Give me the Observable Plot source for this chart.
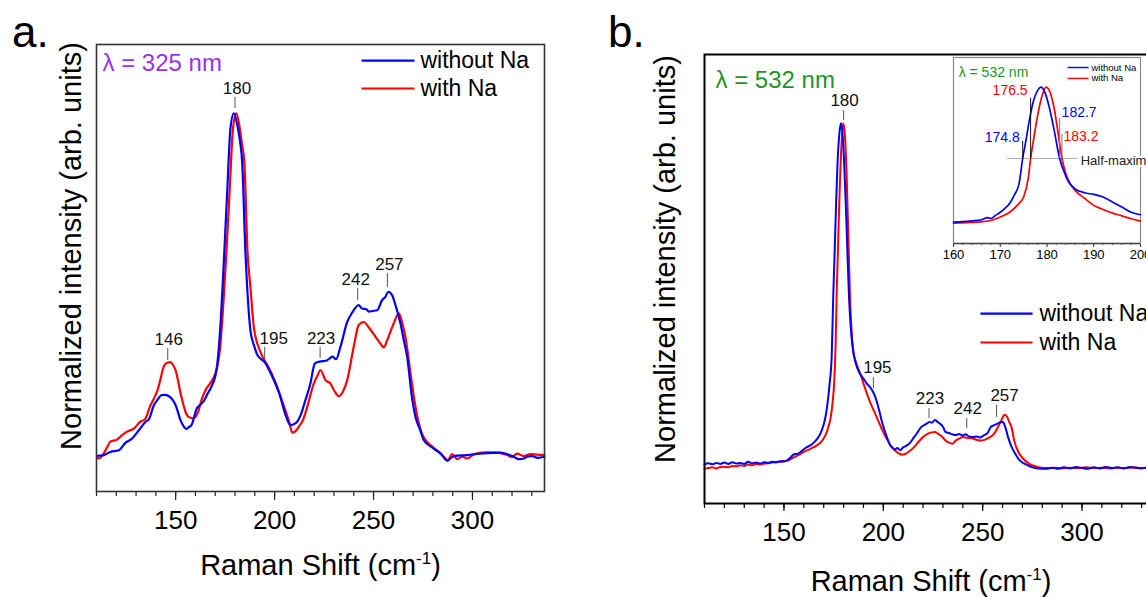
<!DOCTYPE html>
<html>
<head>
<meta charset="utf-8">
<script src="https://cdn.jsdelivr.net/npm/d3@7"></script>
<script src="https://cdn.jsdelivr.net/npm/@observablehq/plot@0.6"></script>
<style>
  body { margin: 0; background: #fff; }
  #wrap { position: relative; width: 1146px; height: 597px; overflow: hidden; background: #fff;
          font-family: "Liberation Sans", Arial, Helvetica, sans-serif; }
  .letter { position: absolute; font-size: 44px; line-height: 1; color: #000; }
</style>
</head>
<body>
<div id="wrap"></div>
<script>
// ---------------- data ----------------
const seriesNames = ["without Na", "with Na"];
const xMajorTicks = [150, 200, 250, 300];
const insetTicks = [160, 170, 180, 190, 200];
const xTitle = "Raman Shift (cm-1)";
const yTitle = "Normalized intensity (arb. units)";
const lambdaA = "λ = 325 nm";
const lambdaB = "λ = 532 nm";

// panel a (λ = 325 nm)
const aWithout = [[110.2,0.004],[113.7,0.006],[117,0.015],[121.3,0.02],[124.7,0.042],[128,0.054],[131.4,0.078],[134.8,0.103],[136.5,0.11],[139,0.151],[141,0.168],[142.7,0.18],[144.5,0.181],[146.4,0.178],[148.3,0.168],[150,0.151],[152.5,0.107],[154,0.09],[155.3,0.082],[156.8,0.088],[158,0.093],[160.7,0.142],[162.5,0.152],[164.4,0.165],[166.2,0.185],[168,0.204],[170.6,0.252],[172.5,0.37],[174.2,0.55],[176,0.765],[177.7,0.957],[179.4,1.0],[181,0.97],[182.5,0.92],[183.6,0.86],[185.3,0.59],[186,0.51],[187.8,0.368],[189.6,0.325],[191.4,0.296],[195,0.276],[198.5,0.238],[202.3,0.186],[205.9,0.117],[208,0.093],[210.4,0.098],[211.4,0.103],[213,0.12],[215.6,0.166],[218.1,0.214],[220.3,0.272],[222.1,0.277],[224.5,0.279],[226.6,0.282],[228,0.288],[229.3,0.292],[231.1,0.285],[233.3,0.321],[236.7,0.393],[239.2,0.42],[242.5,0.442],[244.2,0.432],[246.4,0.43],[247.6,0.423],[249.5,0.425],[251.8,0.427],[254.4,0.457],[256,0.466],[257.4,0.481],[259.4,0.471],[261.1,0.442],[263.6,0.389],[265.3,0.34],[267,0.292],[269.5,0.17],[271.2,0.117],[273.5,0.08],[275.4,0.049],[280.4,0.025],[284,0.01],[287.2,-0.01],[290.6,0.003],[297.3,0.006],[305.7,0.011],[314.1,0.013],[320.8,0.001],[323.5,-0.006],[325.9,-0.004],[328,0.002],[330.2,0.003],[333,-0.002],[336.4,0.001]];
const aWith = [[110.2,0.0],[111.2,-0.004],[113.7,0.011],[115.5,0.03],[117,0.045],[120.4,0.051],[123,0.064],[125.5,0.074],[128.9,0.083],[132.2,0.103],[134.5,0.11],[137.3,0.151],[139,0.17],[140.8,0.194],[142.5,0.23],[143.6,0.257],[145,0.272],[147.2,0.276],[148.7,0.268],[150,0.252],[152.5,0.186],[155.3,0.127],[157,0.115],[159,0.113],[161.6,0.136],[163,0.165],[165,0.194],[167.5,0.215],[169.7,0.238],[171.3,0.27],[172.5,0.32],[174.2,0.455],[175.6,0.59],[177.2,0.765],[179,0.957],[180.7,1.0],[182.3,0.96],[183.5,0.91],[184.7,0.86],[186.3,0.6],[187.8,0.494],[189.6,0.374],[193.2,0.301],[196.9,0.262],[200.4,0.218],[204,0.16],[207.6,0.098],[208.9,0.071],[210.5,0.075],[212.2,0.088],[214.5,0.11],[216.5,0.146],[219.8,0.214],[221.5,0.235],[223.2,0.253],[225.7,0.224],[228.2,0.214],[230.5,0.19],[232.4,0.177],[234.5,0.19],[236.7,0.224],[240,0.321],[242.5,0.384],[245.1,0.393],[247.6,0.377],[251,0.35],[253.5,0.33],[255.2,0.319],[256.9,0.34],[260.2,0.389],[262.8,0.418],[264.5,0.39],[266.1,0.35],[268.7,0.243],[271.2,0.146],[274.4,0.069],[277,0.045],[279.8,0.03],[283,0.015],[286.2,-0.003],[287.5,-0.01],[289.7,0.009],[292.3,-0.006],[294.8,0.001],[297.3,-0.004],[300.7,0.008],[306.6,0.014],[312.5,0.013],[317.5,0.006],[320,0.0],[322.6,0.01],[325.9,0.003],[329.3,0.009],[332.7,0.007],[336.4,0.006]];
const aPeakLabels = ["146", "180", "195", "223", "242", "257"];
const aPeakTop = [0.316, 1.046, 0.319, 0.319, 0.49, 0.534];
const aPeakBottom = [0.281, 1.014, 0.284, 0.287, 0.455, 0.493];

// panel b (λ = 532 nm)
const bWithout = [[110,0.008],[112,0.012],[114,0.009],[116,0.013],[118,0.01],[120,0.014],[122,0.01],[124,0.015],[126,0.011],[128,0.013],[130,0.01],[132,0.016],[134,0.012],[136,0.014],[138,0.011],[140,0.015],[142,0.013],[144,0.016],[146,0.015],[148,0.018],[150,0.017],[152,0.022],[153.5,0.03],[155,0.038],[157,0.04],[159,0.048],[161,0.057],[163,0.063],[165,0.072],[167,0.085],[168.5,0.1],[170,0.125],[171,0.15],[172,0.19],[173,0.245],[174,0.32],[174.8,0.5],[175.5,0.625],[176.3,0.78],[177,0.89],[178,0.977],[178.7,1.0],[179.5,0.966],[180.5,0.856],[181.5,0.7],[182.7,0.5],[183.5,0.416],[184.5,0.35],[186,0.305],[188,0.275],[190,0.258],[191.8,0.243],[193.5,0.232],[195.3,0.214],[196.5,0.195],[197.9,0.166],[199.2,0.135],[200.6,0.108],[202,0.085],[203.1,0.069],[204.5,0.058],[205.8,0.052],[207,0.056],[208.5,0.05],[210,0.058],[211.9,0.064],[213.5,0.072],[215.5,0.088],[217,0.1],[219,0.117],[221,0.124],[223.4,0.132],[224.5,0.13],[226,0.138],[227.5,0.131],[228.6,0.127],[230,0.118],[231.3,0.103],[233,0.1],[234.8,0.096],[236.5,0.094],[238,0.097],[240,0.093],[241.5,0.096],[243,0.09],[245.3,0.088],[247,0.09],[248.5,0.087],[250.6,0.093],[252.5,0.1],[254,0.117],[255.5,0.122],[257.5,0.127],[259,0.131],[260.2,0.132],[261.5,0.115],[262.8,0.088],[264.5,0.06],[266.3,0.04],[268,0.025],[269.8,0.015],[272,0.008],[275.1,0.0],[278,-0.003],[282.1,-0.004],[285,-0.001],[288,-0.004],[291,0.0],[294,-0.003],[297,0.001],[300,-0.002],[303,-0.004],[306,0.0],[309,-0.003],[312,0.001],[315,-0.002],[318,0.0],[321,-0.003],[324,0.001],[327,-0.001],[330,-0.003],[333,0.0],[336,-0.002],[340,0.0]];
const bWith = [[110,-0.004],[112,-0.002],[114,0.0],[116,-0.003],[118,0.001],[120,0.002],[122,0.0],[124,0.004],[126,0.003],[128,0.006],[130,0.004],[132,0.008],[134,0.006],[136,0.01],[138,0.008],[140,0.011],[142,0.012],[144,0.014],[146,0.015],[148,0.016],[150,0.018],[152,0.02],[154,0.026],[156,0.032],[158,0.038],[160,0.045],[162,0.05],[164,0.056],[166,0.062],[168,0.07],[169.5,0.08],[171,0.095],[172.5,0.12],[173.5,0.145],[174.5,0.19],[175.3,0.25],[176,0.36],[176.5,0.5],[177,0.6],[178,0.8],[179,0.944],[179.8,1.0],[180.5,0.977],[181.5,0.856],[182.5,0.647],[183.2,0.5],[184,0.4],[185,0.335],[186,0.31],[187.5,0.285],[189,0.262],[190.5,0.235],[192,0.21],[194,0.18],[196,0.155],[198,0.128],[199.6,0.107],[201.5,0.085],[204,0.06],[206,0.048],[208,0.04],[209.5,0.037],[211,0.039],[213,0.046],[215.5,0.059],[218,0.076],[220,0.088],[222.5,0.098],[224,0.101],[226,0.103],[228,0.096],[229.5,0.09],[231.3,0.078],[233,0.072],[234.8,0.069],[236.5,0.078],[238,0.083],[240,0.088],[242,0.086],[244,0.085],[246,0.082],[248.8,0.078],[251,0.08],[253,0.086],[255.8,0.098],[257.5,0.115],[259.5,0.138],[261,0.153],[262.2,0.148],[263.5,0.13],[264.5,0.117],[266,0.075],[268,0.044],[270,0.028],[273.4,0.01],[276,0.004],[278.7,0.0],[282,-0.002],[286,-0.001],[290,-0.003],[294,-0.001],[298,-0.002],[302,0.0],[306,-0.002],[310,-0.001],[314,-0.003],[318,-0.001],[322,-0.002],[326,0.0],[330,-0.002],[334,-0.001],[338,-0.002],[340,-0.002]];
const bPeakLabels = ["180", "195", "223", "242", "257"];
const bPeakTop = [1.037, 0.261, 0.171, 0.142, 0.18];
const bPeakBottom = [1.008, 0.229, 0.142, 0.113, 0.145];

// inset (λ = 532 nm, 160–200 cm-1)
const insetWithout = [[160,0.137],[162,0.14],[164,0.145],[166,0.152],[167.3,0.165],[168,0.16],[169,0.18],[170,0.2],[171,0.225],[172,0.256],[173,0.31],[174,0.38],[174.8,0.544],[175.5,0.66],[176.3,0.8],[177,0.9],[178,0.98],[178.7,1.0],[179.5,0.97],[180.5,0.87],[181.5,0.73],[182.7,0.544],[183.5,0.47],[184.5,0.4],[186,0.35],[188,0.325],[190,0.314],[192,0.297],[194,0.265],[196,0.233],[198,0.2],[200,0.184]];
const insetWith = [[160,0.13],[163,0.134],[165,0.137],[168,0.147],[170,0.169],[172,0.2],[174,0.256],[175,0.297],[176,0.42],[176.5,0.544],[177,0.64],[178,0.82],[179,0.95],[179.8,1.0],[180.5,0.98],[181.5,0.87],[182.5,0.68],[183.2,0.544],[184,0.45],[185,0.38],[186,0.34],[188,0.29],[190,0.244],[192,0.218],[194,0.194],[196,0.177],[198,0.158],[200,0.143]];
const halfMaximum = 0.544;
const fwhmLabels = ["176.5", "174.8", "182.7", "183.2"];
const fwhmX = [176.5, 174.8, 182.7, 183.2];
const fwhmLineTop = [0.928, 0.653, 0.80, 0.697];
const fwhmLabelY = [0.979, 0.678, 0.838, 0.685];

// ---------------- drawing ----------------
const font = '"Liberation Sans", Arial, Helvetica, sans-serif';
const blue = "#0000ff", red = "#ff0000";
const seriesColors = [blue, red];

function curve(data, stroke, w) {
  return Plot.line(data, {x: d => d[0], y: d => d[1], stroke, strokeWidth: w, curve: "monotone-x"});
}
function peaks(labels, tops, bottoms, dxs, dy) {
  const marks = [];
  labels.forEach((l, i) => {
    const row = [{x: +l, t: tops[i], b: bottoms[i], l}];
    marks.push(Plot.ruleX(row, {x: "x", y1: "b", y2: "t", stroke: "#555", strokeWidth: 1}));
    marks.push(Plot.text(row, {x: "x", y: "t", text: "l", dx: dxs[i], dy, fontSize: 17, fill: "#111", lineAnchor: "middle"}));
  });
  return marks;
}
function legend(x1, x2, xt, ys, fs, sw) {
  const marks = [];
  seriesNames.forEach((name, i) => {
    const row = [{name, y: ys[i]}];
    marks.push(Plot.link(row, {x1, x2, y1: "y", y2: "y", stroke: seriesColors[i], strokeWidth: sw}));
    marks.push(Plot.text(row, {x: xt, y: "y", text: "name", textAnchor: "start", lineAnchor: "middle", fontSize: fs, fill: "#000"}));
  });
  return marks;
}
const baseStyle = {fontFamily: font, color: "#000", background: "transparent", overflow: "visible"};

const A = Plot.plot({
  width: 560, height: 597, marginLeft: 96, marginRight: 16, marginTop: 44, marginBottom: 106,
  x: {domain: [110, 336.4]}, y: {domain: [-0.1, 1.2], axis: null},
  style: baseStyle,
  marks: [
    Plot.axisX({ticks: d3.range(110, 337, 10), tickSize: 5, tickFormat: () => "", label: null, strokeWidth: 1.2, stroke: "#222"}),
    Plot.axisX({ticks: xMajorTicks, tickSize: 9, tickPadding: 10, fontSize: 26, label: null, strokeWidth: 1.2, stroke: "#222", fill: "#000"}),
    curve(aWith, red, 2.2),
    curve(aWithout, blue, 2.2),
    Plot.frame({stroke: "#333", strokeWidth: 1.6}),
    ...peaks(aPeakLabels, aPeakTop, aPeakBottom, [1, 2, 9, 1, -2, 2], -9),
    Plot.text([lambdaA], {frameAnchor: "top-left", dx: 6, dy: 19, textAnchor: "start", lineAnchor: "middle", fontSize: 24, fill: "#9632f0"}),
    ...legend(243.9, 270.7, 273.7, [1.153, 1.072], 23, 2.2),
    Plot.text([xTitle], {frameAnchor: "bottom", dy: 74, fontSize: 29, textAnchor: "middle", lineAnchor: "middle", fill: "#000"}),
    Plot.text([yTitle], {frameAnchor: "left", rotate: -90, dx: -25, dy: -22, fontSize: 29, textAnchor: "middle", lineAnchor: "middle", fill: "#000"})
  ]
});

const B = Plot.plot({
  width: 580, height: 597, marginLeft: 104, marginRight: 19, marginTop: 54, marginBottom: 94,
  x: {domain: [110, 340]}, y: {domain: [-0.105, 1.2], axis: null},
  style: baseStyle,
  marks: [
    Plot.axisX({ticks: d3.range(110, 341, 10), tickSize: 5, tickFormat: () => "", label: null, strokeWidth: 1.2, stroke: "#000"}),
    Plot.axisX({ticks: xMajorTicks, tickSize: 8, tickPadding: 11, fontSize: 26, label: null, strokeWidth: 1.2, stroke: "#000", fill: "#000"}),
    curve(bWith, red, 2),
    curve(bWithout, blue, 2),
    Plot.frame({stroke: "#000", strokeWidth: 2}),
    ...peaks(bPeakLabels, bPeakTop, bPeakBottom, [1, 4, 1, 1, 8], -10),
    Plot.text([lambdaB], {frameAnchor: "top-left", dx: 11, dy: 26, textAnchor: "start", lineAnchor: "middle", fontSize: 24, fill: "#1e961e"}),
    ...legend(248.9, 275.1, 278.6, [0.447, 0.363], 23, 2.2),
    Plot.text([xTitle], {frameAnchor: "bottom", dx: -2, dy: 78, fontSize: 29, textAnchor: "middle", lineAnchor: "middle", fill: "#000"}),
    Plot.text([yTitle], {frameAnchor: "left", rotate: -90, dx: -39, dy: -20, fontSize: 29, textAnchor: "middle", lineAnchor: "middle", fill: "#000"})
  ]
});

const fwhmRows = fwhmLabels.map((l, i) => ({l, x: fwhmX[i], top: fwhmLineTop[i], ty: fwhmLabelY[i]}));
const fwhmTextColor = [red, blue, blue, red];
const fwhmLineColor = ["#111", "#111", "#777", "#777"];
const fwhmAnchor = ["end", "end", "start", "start"];
const fwhmDx = [-3, -3, 2, 1.5];
const fwhmMarks = [];
fwhmRows.forEach((r, i) => {
  fwhmMarks.push(Plot.ruleX([r], {x: "x", y1: halfMaximum, y2: "top", stroke: fwhmLineColor[i], strokeWidth: 1}));
  fwhmMarks.push(Plot.text([r], {x: "x", y: "ty", text: "l", textAnchor: fwhmAnchor[i], dx: fwhmDx[i], lineAnchor: "middle", fontSize: 14, fill: fwhmTextColor[i]}));
});

const C = Plot.plot({
  width: 230, height: 230, marginLeft: 23, marginRight: 20, marginTop: 17, marginBottom: 27,
  x: {domain: [160, 200]}, y: {domain: [0, 1.19], axis: null},
  style: baseStyle,
  marks: [
    Plot.axisX({ticks: d3.range(160, 201, 2), tickSize: 2, tickFormat: () => "", label: null, stroke: "#555"}),
    Plot.axisX({ticks: insetTicks, tickSize: 4, tickPadding: 2.4, fontSize: 13, label: null, stroke: "#333", fill: "#000"}),
    Plot.frame({stroke: "#8a8a8a", strokeWidth: 1.2}),
    Plot.ruleY([0], {stroke: "#444", strokeWidth: 1.3}),
    Plot.ruleY([halfMaximum], {x1: 171.5, x2: 186.7, stroke: "#9a9a9a", strokeWidth: 0.8}),
    curve(insetWith, red, 1.7),
    curve(insetWithout, blue, 1.7),
    ...fwhmMarks,
    Plot.text(["Half-maximum"], {x: 187.2, y: 0.531, textAnchor: "start", lineAnchor: "middle", fontSize: 13, fill: "#222", stroke: "white", strokeWidth: 4}),
    Plot.text([lambdaB], {x: 161.1, y: 1.094, textAnchor: "start", lineAnchor: "middle", fontSize: 14, fill: "#1e961e"}),
    ...legend(184.4, 188.9, 189.5, [1.126, 1.056], 9.5, 1.4)
  ]
});

// superscript in axis titles
function supTitle(svg) {
  d3.select(svg).selectAll("text").each(function() {
    if (this.textContent === xTitle) {
      const t = d3.select(this);
      t.text("Raman Shift (cm");
      t.append("tspan").attr("font-size", 17).attr("dy", -11).text("-1");
      t.append("tspan").attr("dy", 11).text(")");
    }
  });
}
supTitle(A); supTitle(B);

const wrap = document.getElementById("wrap");
function place(el, left, top) {
  el.style.position = "absolute"; el.style.left = left + "px"; el.style.top = top + "px";
  el.style.maxWidth = "none";
  wrap.appendChild(el);
}
place(A, 0, 0);
place(B, 600, 0);
place(C, 930, 40);

function letter(txt, left) {
  const d = document.createElement("div");
  d.className = "letter"; d.textContent = txt;
  d.style.left = left + "px"; d.style.top = "10px";
  wrap.appendChild(d);
}
letter("a.", 12);
letter("b.", 608);
</script>
</body>
</html>
